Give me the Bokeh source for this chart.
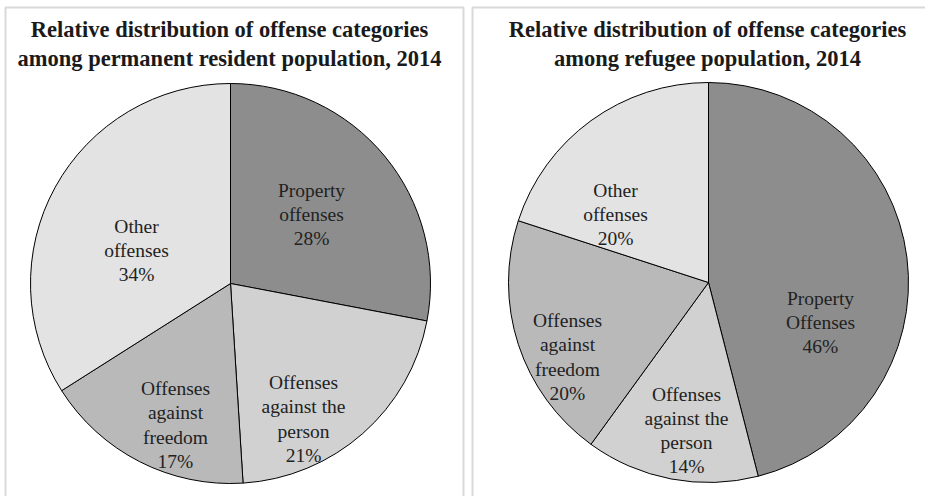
import numpy as np
from bokeh.plotting import figure
from bokeh.models import Range1d, ColumnDataSource
from bokeh.core.properties import value
from bokeh.embed import file_html
from bokeh.resources import INLINE

# ---- data ----
categories = ["Property", "Person", "Freedom", "Other"]
resident_labels = ["Property\noffenses", "Offenses\nagainst the\nperson",
                   "Offenses\nagainst\nfreedom", "Other\noffenses"]
refugee_labels = ["Property\nOffenses", "Offenses\nagainst the\nperson",
                  "Offenses\nagainst\nfreedom", "Other\noffenses"]
resident_pct = [28, 21, 17, 34]
refugee_pct = [46, 14, 20, 20]
titles = ["Relative distribution of offense categories\namong permanent resident population, 2014",
          "Relative distribution of offense categories\namong refugee population, 2014"]

# ---- style / layout ----
W, H = 925, 496
colors = ["#8d8d8d", "#d0d1d0", "#b9b9b9", "#e3e3e3"]
SERIF = value("Liberation Serif")
R = 200
centers = [(230, H - 283), (708, H - 282)]
label_offsets = [
    [(81, 69), (73, -135.5), (-55, -141.5), (-94, 33)],
    [(112, -40), (-22, -148), (-141, -74.5), (-93, 68)],
]
title_x = [229, 707]
panels = [(5, 463), (472, 940)]

p = figure(width=W, height=H, output_backend="svg", toolbar_location=None,
           x_range=Range1d(0, W), y_range=Range1d(0, H), min_border=0)
p.axis.visible = False
p.grid.visible = False
p.outline_line_color = None
p.background_fill_color = "white"
p.border_fill_color = "white"

# panel borders
p.quad(left=[a for a, b in panels], right=[b for a, b in panels],
       bottom=[-20, -20], top=[H - 7, H - 7], fill_color=None,
       line_color="#d9d9d9", line_width=2)

for i, (pct, labels) in enumerate([(resident_pct, resident_labels),
                                    (refugee_pct, refugee_labels)]):
    cx, cy = centers[i]
    frac = np.array(pct, dtype=float) / sum(pct)
    cum = np.concatenate([[0], np.cumsum(frac)])
    start = np.pi / 2 - cum[:-1] * 2 * np.pi
    end = np.pi / 2 - cum[1:] * 2 * np.pi
    src = ColumnDataSource(dict(x=[cx] * 4, y=[cy] * 4, start=start, end=end,
                                color=colors))
    p.wedge(x="x", y="y", radius=R, start_angle="start", end_angle="end",
            direction="clock", fill_color="color", line_color="black",
            line_width=1, source=src)
    txt = [f"{lab}\n{v}%" for lab, v in zip(labels, pct)]
    lx = [cx + dx for dx, dy in label_offsets[i]]
    ly = [cy + dy for dx, dy in label_offsets[i]]
    p.text(x=lx, y=ly, text=txt, text_font=SERIF, text_font_size="19.5px",
           text_align="center", text_baseline="middle", text_line_height=1.15,
           text_color="#222222")
    p.text(x=[title_x[i]], y=[H - 43], text=[titles[i]], text_font=SERIF,
           text_font_size="22.5px", text_font_style="bold", text_align="center",
           text_baseline="middle", text_line_height=1.16, text_color="#1a1a1a")

open("out.html", "w").write(file_html(p, INLINE))
